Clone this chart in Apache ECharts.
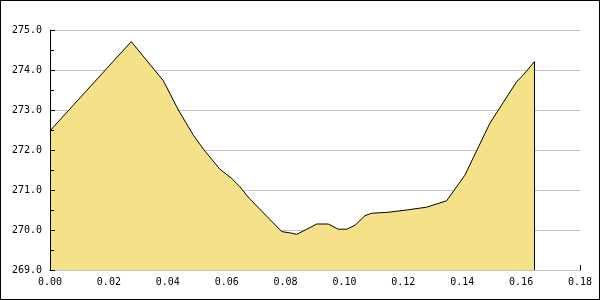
<!DOCTYPE html>
<html>
<head>
<meta charset="utf-8">
<script src="https://cdn.jsdelivr.net/npm/echarts@6/dist/echarts.min.js"></script>
<style>
html,body{margin:0;padding:0;background:#fff;}
#chart{width:600px;height:300px;}
</style>
</head>
<body>
<div id="chart"></div>
<script>
const xValues = [0, 0.0011, 0.0276, 0.0385, 0.0436, 0.0487, 0.0521, 0.0577, 0.0617, 0.0645, 0.0677, 0.0787, 0.0821, 0.0838, 0.0906, 0.0945, 0.0979, 0.1008, 0.1036, 0.1070, 0.1093, 0.1144, 0.1211, 0.1279, 0.1347, 0.1409, 0.1494, 0.1585, 0.1607, 0.1645];
const yValues = [272.47, 272.57, 274.71, 273.73, 273.0, 272.37, 272.02, 271.52, 271.29, 271.08, 270.79, 269.96, 269.92, 269.89, 270.15, 270.15, 270.02, 270.02, 270.12, 270.36, 270.42, 270.44, 270.50, 270.57, 270.73, 271.37, 272.67, 273.71, 273.87, 274.21];
const xTicks = {min: 0, max: 0.18, step: 0.02};
const yTicks = {min: 269, max: 275, step: 1, minorStep: 0.5};

const data = xValues.map((x, i) => [x, yValues[i]]);
const lastX = xValues[xValues.length - 1];
const lastY = yValues[yValues.length - 1];
const font = 'DejaVu Sans Mono';

const chart = echarts.init(document.getElementById('chart'), null, {renderer: 'canvas'});
chart.setOption({
  animation: false,
  backgroundColor: '#ffffff',
  grid: {left: 50, right: 20, top: 30, bottom: 30},
  graphic: [{
    type: 'rect',
    shape: {x: 0, y: 0, width: 600, height: 300},
    style: {fill: 'none', stroke: '#000', lineWidth: 2},
    z: 100
  }],
  xAxis: {
    type: 'value',
    min: xTicks.min, max: xTicks.max, interval: xTicks.step,
    axisLine: {show: true, lineStyle: {color: '#000', width: 1}},
    axisTick: {show: true, inside: true, length: 5, lineStyle: {color: '#000'}},
    splitLine: {show: false},
    axisLabel: {color: '#000', fontFamily: font, fontSize: 10, margin: 7,
      formatter: v => v.toFixed(2)}
  },
  yAxis: [{
    type: 'value',
    min: yTicks.min, max: yTicks.max, interval: yTicks.step,
    axisLine: {show: true, lineStyle: {color: '#000', width: 1}},
    axisTick: {show: true, inside: true, length: 5, lineStyle: {color: '#000'}},
    splitLine: {show: true, lineStyle: {color: '#c0c0c0', width: 1}},
    axisLabel: {color: '#000', fontFamily: font, fontSize: 10, margin: 8,
      formatter: v => v.toFixed(1)},
    z: 3
  }, {
    type: 'value',
    position: 'left',
    min: yTicks.min, max: yTicks.max, interval: yTicks.minorStep,
    axisLine: {show: false},
    axisTick: {show: true, inside: true, length: 4, lineStyle: {color: '#000'}},
    splitLine: {show: false},
    axisLabel: {show: false},
    z: 3
  }],
  series: [{
    type: 'line',
    data: data,
    symbol: 'none',
    smooth: false,
    lineStyle: {color: '#000', width: 1},
    areaStyle: {color: '#f5e187', opacity: 1, origin: 'start'},
    markLine: {
      silent: true,
      symbol: ['none', 'none'],
      label: {show: false},
      lineStyle: {color: '#000', width: 1, type: 'solid'},
      data: [[{coord: [lastX, lastY]}, {coord: [lastX, yTicks.min]}]]
    }
  }]
});
</script>
</body>
</html>
